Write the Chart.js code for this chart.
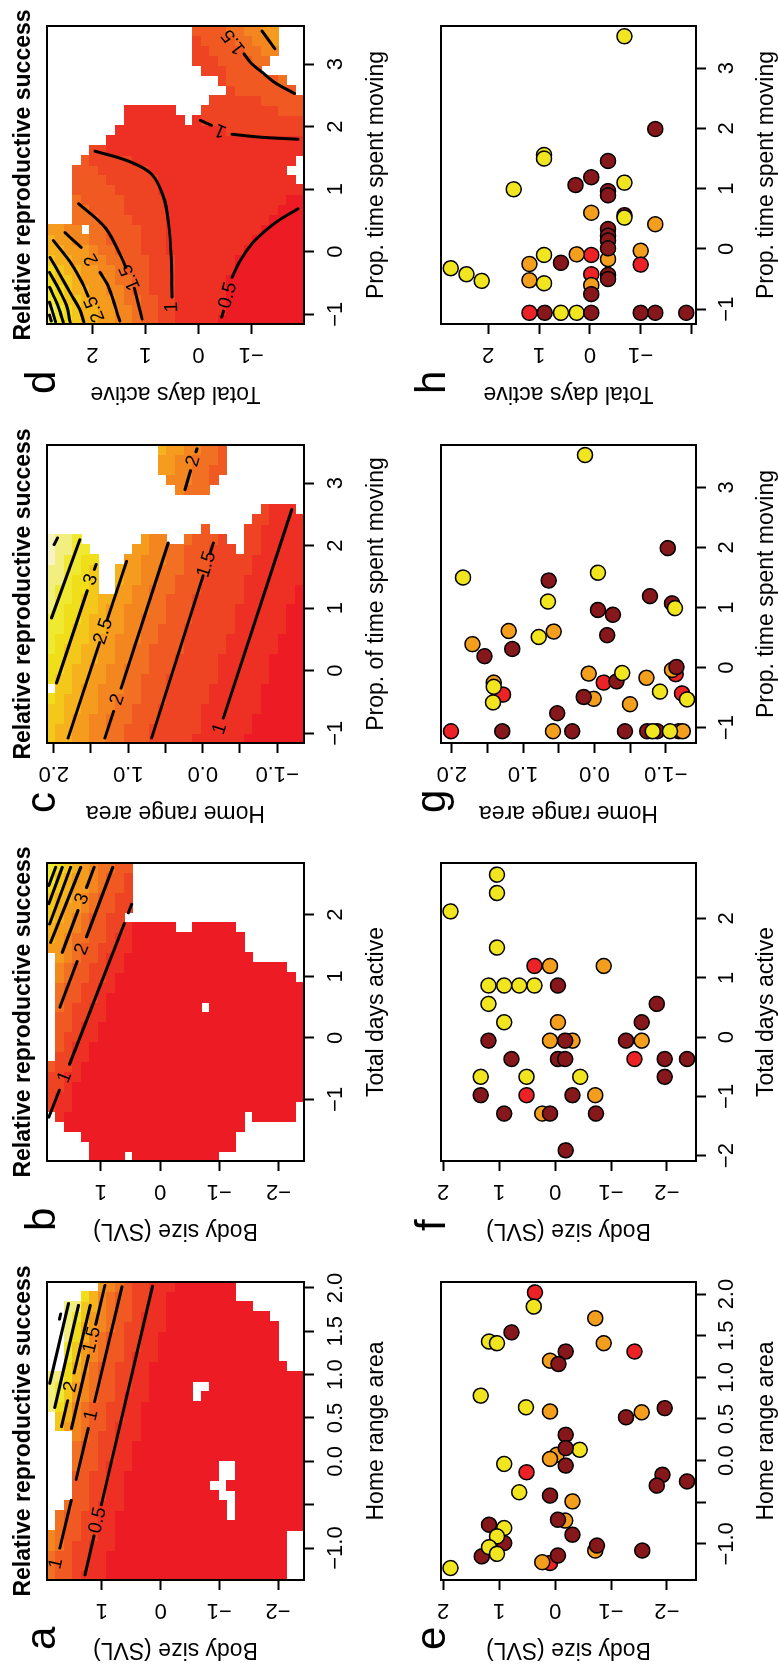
<!DOCTYPE html>
<html>
<head>
<meta charset="utf-8">
<script src="https://cdn.jsdelivr.net/npm/chart.js@4.4.1/dist/chart.umd.min.js"></script>
<style>
  html, body { margin: 0; padding: 0; background: #fff; width: 778px; height: 1669px; overflow: hidden; }
  #fig { position: absolute; left: 0; top: 0; width: 1669px; height: 778px; background: #fff;
         transform-origin: 0 0; transform: translateY(1669px) rotate(-90deg); }
  #fig canvas { position: absolute; }
</style>
</head>
<body>
<div id="fig"></div>
<script>
var FONT = '"Liberation Sans", Arial, Helvetica, sans-serif';
var TITLE = "Relative reproductive success";

// heat colour index -> colour (red = low, pale yellow = high)
var heatColors = {
  "0": "#ED1C24", "1": "#EE3024", "2": "#EF4423", "3": "#F05A22", "4": "#F27021",
  "5": "#F48620", "6": "#F59C1E", "7": "#F5B21C", "8": "#F3C81B", "9": "#F0DE1B",
  "a": "#EFE931", "b": "#F3EE80", "c": "#F7F3C4"
};
var pointColors = { Y: "#F0E51E", O: "#F49E1E", R: "#EC2227", D: "#86171A" };

// tick values and labels
var homeTicks = [-1, -0.5, 0, 0.5, 1, 1.5, 2];
var homeLabels = ["\u22121.0", "", "0.0", "0.5", "1.0", "1.5", "2.0"];
var homeHalfTicks = [-1, -0.5, 0, 0.5, 1, 1.5, 2];
var homeHalfLabels = ["\u22121.0", "", "0.0", "", "1.0", "", "2.0"];
var bodyTicksTop = [-2, -1, 0, 1];
var bodyLabelsTop = ["\u22122", "\u22121", "0", "1"];
var bodyTicks = [-2, -1, 0, 1, 2];
var bodyLabels = ["\u22122", "\u22121", "0", "1", "2"];
var daysTicksB = [-1, 0, 1, 2];
var daysLabelsB = ["\u22121", "0", "1", "2"];
var daysTicksF = [-2, -1, 0, 1, 2];
var daysLabelsF = ["\u22122", "\u22121", "0", "1", "2"];
var daysTicksD = [-1, 0, 1, 2];
var daysLabelsD = ["\u22121", "0", "1", "2"];
var daysTicksH = [-2, -1, 0, 1, 2];
var daysLabelsH = ["", "\u22121", "0", "1", "2"];
var moveTicks = [-1, 0, 1, 2, 3];
var moveLabels = ["\u22121", "0", "1", "2", "3"];

// surface grids, 30 x 30, "." = not predicted (too far from data)
// a, b, c: one string per row, top row first, columns left to right
var gridA = [
  "44455............bbbb.........",
  "3334444........889aab.........",
  "33333334.......6778899aabbbb..",
  "22223333333444555566778899ab..",
  "12222223333333444455566677889.",
  "11112222222333333344445556677.",
  "111111112222222333333344455556",
  "000111111111222222333333344445",
  "000000011111111122222233333334",
  "000000000001111111122222223333",
  "000000000000001111111112222222",
  "000000000000000000111111111222",
  "000000000000000000000011111111",
  "000000000000000000000000011111",
  "000000000000000000000000000001",
  "000000000000000000000000000000",
  "000000000000000000000000000000",
  "000000000000000000..0000000000",
  "0000000000000000000.0000000000",
  "000000000.00000000000000000000",
  "00000000....000000000000000000",
  "000000...0..000000000000000000",
  "0000000000000000000000000000..",
  "0000000000000000000000000000..",
  "000000000000000000000000000...",
  "000000000000000000000000000...",
  "00000000000000000000000000....",
  "0000000000000000000000........",
  ".....0000000000000000.........",
  ".....0000000000000000........."
];
var gridB = [
  ".....22223...........6778889aa",
  "....11122223333444556666777889",
  "...001111222233333445556667778",
  "...000001111222233334445566667",
  "..0000000011112222333344455666",
  "000000000000111122223333344555",
  "000000000000001111222233333444",
  "000000000000000001111222233334",
  "000000000000000000011112222333",
  ".00000000000000000000111.22223",
  "000000000000000000000000......",
  "000000000000000000000000......",
  "000000000000000000000000......",
  "000000000000000000000000......",
  "000000000000000000000000......",
  "00000000000000000000000.......",
  "00000000000000000000000.......",
  "000000000000000000000000......",
  "000000000000000.00000000......",
  "000000000000000000000000......",
  ".00000000000000000000000......",
  ".00000000000000000000000......",
  "...00000000000000000000.......",
  ".....0000000000000000.........",
  "....0000000000000000..........",
  "....0000000000000000..........",
  "....0000000000000000..........",
  "....0000000000000000..........",
  "....000000000000000...........",
  "......000000000000............"
];
var gridC = [
  "88889.999aaaabbbbbccc.........",
  "77888889999aaaaabbbbb.........",
  "77777888889999aaaaabb.........",
  "66677777888899999aaaa.........",
  "6666667777888889999a..........",
  "5556666677777888889...........",
  "555555666667777...............",
  "444555556666667...............",
  "444445555556666677............",
  "3344444455555566666...........",
  "33334444445555556666..........",
  "333333344444455555566.........",
  "223333333344444455555.........",
  "222233333333444444555......667",
  "22222223333333344444......5666",
  "22222222233333333444.....55556",
  "222222222222333333334....45555",
  "122222222222222333333....44445",
  "1111222222222222233333...44444",
  "111111222222222222223.....3344",
  "111111111222222222222......333",
  "11111111111222222222..........",
  "1111111111111122222...........",
  "0111111111111111122222........",
  "00011111111111111112222.......",
  "000000111111111111111122......",
  "000000000111111111111111......",
  "000000000001111111111111......",
  "000000000000001111111111......",
  "00000000000000001111111......."
];
// d: one string per column, left column first, rows top to bottom
var gridDCols = [
  "ba9877665543322111110000000000",
  "ba9877665543322111111000000000",
  "a98876665443322111111000000000",
  "a98776655433222111111000000000",
  "988766654433222111111000000000",
  "987766554333222111111100000000",
  "877665544333222111111100000000",
  "776665443332221111111110000000",
  "766554433332221111111111000000",
  "6655.4433332221111111111100000",
  "...444333322221111111111110000",
  "...443333222221111111111111000",
  "...433333222221111111111111100",
  "...333332222211111111111111111",
  "...33332222221111111111111111.",
  "...3332222221111111111111111..",
  "....3222221111111111111111111.",
  ".....2211111111111111111111111",
  ".......11111111111111111111111",
  "........1111111111111222222222",
  ".........1111111.1222222222222",
  ".........111111...222222222333",
  "...................22222233333",
  ".....................23333333.",
  "....................23333334..",
  "..................2223333.....",
  ".................222333344....",
  ".................2233334455...",
  ".................2333344556...",
  ".................3333445566..."
];

// contour lines: segments of [x, y] points, labels [x, y, text]
var contoursA = [
  { segs: [[[-1.31, 1.29], [-0.86, 1.135]], [[-0.50, 1.01], [2.02, 0.14]]], labels: [[-0.68, 1.07, "0.5"]] },
  { segs: [[[-1.0, 1.718], [-0.45, 1.525]], [[-0.21, 1.44], [0.38, 1.234]], [[0.69, 1.125], [2.015, 0.66]]],
    labels: [[-1.18, 1.78, "1"], [0.53, 1.18, "1"]] },
  { segs: [[[0.38, 1.52], [1.22, 1.23]], [[1.58, 1.105], [2.03, 0.95]]], labels: [[1.40, 1.17, "1.5"]] },
  { segs: [[[0.40, 1.69], [0.70, 1.585]], [[1.02, 1.475], [1.80, 1.20]]], labels: [[0.86, 1.53, "2"]] },
  { segs: [[[0.62, 1.806], [1.80, 1.40]]], labels: [] },
  { segs: [[[0.90, 1.89], [1.82, 1.57]]], labels: [] },
  { segs: [[[1.64, 1.725], [1.70, 1.705]]], labels: [] }
];
var contoursB = [
  { segs: [[[-1.287, 1.878], [-0.85, 1.70]], [[-0.43, 1.53], [1.86, 0.605]], [[2.03, 0.535], [2.17, 0.48]]],
    labels: [[-0.64, 1.61, "1"]] },
  { segs: [[[0.497, 1.691], [1.24, 1.40]], [[1.64, 1.243], [2.77, 0.80]]], labels: [[1.44, 1.32, "2"]] },
  { segs: [[[1.388, 1.652], [2.07, 1.387]], [[2.44, 1.243], [2.77, 1.114]]], labels: [[2.254, 1.315, "3"]] },
  { segs: [[[1.55, 1.85], [2.77, 1.34]]], labels: [] },
  { segs: [[[1.85, 1.866], [2.77, 1.51]]], labels: [] },
  { segs: [[[2.18, 1.878], [2.77, 1.652]]], labels: [] },
  { segs: [[[2.475, 1.878], [2.77, 1.764]]], labels: [] }
];
var contoursC = [
  { segs: [[[-0.757, -0.277], [2.576, -1.196]]], labels: [[-0.93, -0.23, "1"]] },
  { segs: [[[-1.077, 0.686], [1.52, -0.005]], [[1.88, -0.10], [2.043, -0.143]]], labels: [[1.70, -0.053, "1.5"]] },
  { segs: [[[-1.077, 1.313], [-0.65, 1.196]], [[-0.28, 1.095], [2.043, 0.462]]], labels: [[-0.464, 1.146, "2"]] },
  { segs: [[[-1.077, 1.806], [0.45, 1.383]], [[0.81, 1.283], [1.75, 1.022]]], labels: [[0.63, 1.333, "2.5"]] },
  { segs: [[[-0.197, 1.962], [1.28, 1.55]], [[1.62, 1.455], [1.70, 1.43]]], labels: [[1.456, 1.50, "3"]] },
  { segs: [[[0.843, 2.03], [2.096, 1.649]]], labels: [] },
  { segs: [[[2.016, 1.995], [2.123, 1.949]]], labels: [] },
  { segs: [[[2.896, 0.238], [3.20, 0.163]], [[3.50, 0.09], [3.55, 0.077]]], labels: [[3.35, 0.127, "2"]] }
];
var contoursD = [
  { segs: [[[1.608, 1.95], [1.449, 1.32], [1.242, 0.883], [0.877, 0.657], [0.448, 0.56], [-0.092, 0.512], [-0.728, 0.496]]],
    labels: [[-0.887, 0.496, "1"]] },
  { segs: [[[0.766, 2.257], [0.384, 1.756], [-0.092, 1.449], [-0.251, 1.368]], [[-0.585, 1.207], [-1.078, 1.061]]],
    labels: [[-0.41, 1.287, "1.5"]] },
  { segs: [[[0.305, 2.516], [0.067, 2.209]], [[-0.331, 1.853], [-0.569, 1.692], [-1.109, 1.481]]],
    labels: [[-0.124, 2.015, "2"]] },
  { segs: [[[0.178, 2.735], [-0.204, 2.386], [-0.521, 2.176], [-0.712, 2.079]]], labels: [[-0.919, 1.95, "2.5"]] },
  { segs: [[[-0.092, 2.798], [-0.362, 2.613], [-0.68, 2.402], [-0.919, 2.241], [-1.125, 2.16]]], labels: [] },
  { segs: [[[-0.331, 2.807], [-0.633, 2.613], [-0.871, 2.483], [-1.125, 2.419]]], labels: [] },
  { segs: [[[-0.569, 2.807], [-0.839, 2.661], [-1.125, 2.548]]], labels: [] },
  { segs: [[[-0.807, 2.807], [-1.125, 2.693]]], labels: [] },
  { segs: [[[-1.014, 2.807], [-1.109, 2.774]]], labels: [] },
  { segs: [[[-1.046, -0.442], [-0.95, -0.474]],
           [[-0.41, -0.636], [-0.156, -0.781], [0.122, -1.007], [0.337, -1.266], [0.496, -1.508], [0.686, -1.88]]],
    labels: [[-0.70, -0.56, "0.5"]] },
  { segs: [[[2.1, -0.038], [2.021, -0.248]], [[1.878, -0.636], [1.83, -1.201], [1.799, -1.88]]],
    labels: [[1.942, -0.42, "1"]] },
  { segs: [[[3.165, -0.862], [3.006, -1.007], [2.863, -1.217], [2.704, -1.444], [2.53, -1.815]]],
    labels: [[3.356, -0.668, "1.5"]] },
  { segs: [[[3.53, -1.201], [3.245, -1.444]]], labels: [] }
];

// scatter points [x, y, colour code]
var ptsE = [
  [2.02, 0.36, "R"], [1.85, 0.38, "Y"], [1.54, 0.78, "D"], [1.43, 1.18, "Y"], [1.41, 1.04, "Y"],
  [1.71, -0.72, "O"], [1.41, -0.87, "O"], [1.31, -1.42, "R"], [1.31, -0.19, "D"], [1.20, 0.09, "O"], [1.16, -0.06, "D"],
  [0.78, 1.33, "Y"], [0.64, 0.52, "Y"], [0.59, 0.09, "O"], [0.52, -1.27, "D"], [0.58, -1.55, "O"], [0.63, -1.96, "D"],
  [0.31, -0.19, "D"], [0.13, -0.44, "Y"], [0.07, -0.03, "O"], [0.02, 0.09, "O"], [0.15, -0.19, "D"], [-0.06, -0.19, "D"],
  [-0.04, 0.91, "Y"], [-0.14, 0.51, "R"], [-0.17, -1.92, "D"], [-0.30, -1.82, "D"], [-0.25, -2.36, "D"],
  [-0.38, 0.64, "Y"], [-0.42, 0.09, "D"], [-0.49, -0.31, "O"], [-0.72, -0.18, "O"], [-0.71, -0.05, "D"], [-0.89, -0.31, "D"],
  [-1.15, 1.31, "D"], [-0.99, 0.91, "D"], [-0.77, 1.18, "D"], [-0.81, 0.91, "Y"], [-0.91, 1.04, "Y"], [-1.04, 1.18, "Y"],
  [-1.12, 1.04, "Y"], [-1.08, -0.72, "O"], [-1.02, -0.75, "D"], [-1.08, -1.56, "D"], [-1.23, 0.09, "R"], [-1.22, 0.23, "O"],
  [-1.14, -0.05, "D"], [-1.29, 1.87, "Y"]
];
var ptsF = [
  [2.74, 1.04, "Y"], [2.43, 1.04, "Y"], [2.12, 1.87, "Y"], [1.51, 1.04, "Y"], [1.20, 0.37, "R"], [1.20, 0.09, "O"],
  [1.20, -0.87, "O"], [0.87, 1.19, "Y"], [0.87, 0.91, "Y"], [0.87, 0.64, "Y"], [0.87, 0.37, "Y"], [0.87, -0.05, "D"],
  [0.56, 1.19, "Y"], [0.56, -1.82, "D"], [0.25, 0.91, "Y"], [0.25, -0.05, "O"], [0.25, -1.55, "D"], [-0.06, 1.19, "D"],
  [-0.06, 0.09, "O"], [-0.06, -0.31, "O"], [-0.06, -0.18, "D"], [-0.06, -1.27, "D"], [-0.06, -1.55, "O"],
  [-0.37, 0.78, "D"], [-0.37, -0.05, "D"], [-0.37, -0.18, "D"], [-0.37, -1.42, "R"], [-0.37, -1.96, "D"],
  [-0.37, -2.36, "D"], [-0.67, 1.33, "Y"], [-0.67, 0.51, "Y"], [-0.67, -0.45, "Y"], [-0.67, -1.96, "D"],
  [-0.98, 1.33, "D"], [-0.98, 0.51, "R"], [-0.98, -0.31, "D"], [-0.98, -0.72, "O"], [-1.29, 0.91, "D"],
  [-1.29, 0.23, "O"], [-1.29, 0.09, "D"], [-1.29, -0.73, "D"], [-1.91, -0.19, "D"]
];
var ptsG = [
  [3.54, 0.13, "Y"], [1.99, -1.03, "D"], [1.50, 1.84, "Y"], [1.45, 0.64, "D"], [1.58, -0.05, "Y"], [1.10, 0.65, "Y"],
  [1.19, -0.78, "D"], [1.07, -1.09, "D"], [0.99, -1.13, "Y"], [0.96, -0.05, "D"], [0.88, -0.26, "D"], [0.54, -0.18, "D"],
  [0.61, 1.20, "O"], [0.60, 0.57, "O"], [0.51, 0.78, "Y"], [0.39, 1.71, "O"], [0.19, 1.54, "D"], [0.31, 1.15, "D"],
  [-0.10, 0.08, "O"], [-0.25, -0.13, "R"], [-0.23, -0.31, "D"], [-0.09, -0.39, "Y"], [-0.17, -0.73, "O"],
  [-0.11, -1.14, "R"], [-0.04, -1.09, "O"], [0.01, -1.15, "D"], [-0.40, -0.92, "Y"], [-0.43, -1.23, "R"],
  [-0.53, -1.30, "Y"], [-0.25, 1.41, "O"], [-0.45, 1.28, "R"], [-0.32, 1.41, "Y"], [-0.58, 1.42, "Y"],
  [-0.52, 0.01, "O"], [-0.49, 0.15, "D"], [-0.61, -0.50, "O"], [-0.76, 0.52, "D"], [-1.06, 2.01, "R"],
  [-1.06, 1.29, "D"], [-1.06, 0.58, "O"], [-1.06, 0.31, "D"], [-1.06, -0.43, "D"], [-1.06, -0.74, "D"],
  [-1.06, -0.88, "D"], [-1.06, -1.18, "D"], [-1.06, -1.24, "O"], [-1.06, -0.82, "Y"], [-1.06, -1.06, "Y"]
];
var ptsH = [
  [3.53, -0.68, "Y"], [1.99, -1.29, "D"], [1.56, 0.90, "Y"], [1.50, 0.90, "Y"], [1.46, -0.36, "D"], [1.19, -0.03, "D"],
  [1.06, 0.28, "D"], [1.10, -0.68, "Y"], [0.96, -0.36, "D"], [0.89, -0.36, "D"], [0.99, 1.50, "Y"], [0.60, -0.03, "O"],
  [0.56, -0.68, "D"], [0.52, -0.68, "Y"], [0.41, -1.29, "O"], [0.33, -0.36, "D"], [0.22, -0.36, "D"], [0.14, -0.36, "D"],
  [-0.17, -0.36, "O"], [0.01, -0.36, "D"], [-0.03, -1.00, "O"], [-0.10, -0.03, "R"], [-0.09, 0.26, "O"],
  [-0.10, 0.90, "Y"], [-0.26, -1.00, "R"], [-0.23, 0.57, "D"], [-0.25, 1.19, "O"], [-0.32, 2.74, "Y"],
  [-0.42, 2.43, "Y"], [-0.53, 2.13, "Y"], [-0.52, 1.19, "O"], [-0.57, 0.90, "Y"], [-0.42, -0.03, "R"],
  [-0.60, -0.03, "O"], [-0.75, -0.03, "D"], [-0.43, -0.36, "D"], [-0.50, -0.36, "D"], [-1.06, 1.19, "R"],
  [-1.06, 0.89, "D"], [-1.06, 0.57, "Y"], [-1.06, 0.26, "Y"], [-1.06, -0.03, "D"], [-1.06, -1.00, "D"],
  [-1.06, -1.29, "D"], [-1.06, -1.90, "D"]
];

var panels = [
  { letter: "a", row: 0, col: 0, xMin: -1.369, xMax: 2.069, yMin: -2.443, yMax: 1.937,
    xTicks: homeTicks, xLabels: homeLabels, yTicks: bodyTicksTop, yLabels: bodyLabelsTop,
    xTitle: "Home range area", yTitle: "Body size (SVL)", grid: gridA, contours: contoursA },
  { letter: "b", row: 0, col: 1, xMin: -2.0, xMax: 2.84, yMin: -2.43, yMax: 1.91,
    xTicks: daysTicksB, xLabels: daysLabelsB, yTicks: bodyTicksTop, yLabels: bodyLabelsTop,
    xTitle: "Total days active", yTitle: "Body size (SVL)", grid: gridB, contours: contoursB },
  { letter: "c", row: 0, col: 2, xMin: -1.157, xMax: 3.61, yMin: -1.36, yMax: 2.09,
    xTicks: moveTicks, xLabels: moveLabels, yTicks: homeHalfTicks, yLabels: homeHalfLabels,
    xTitle: "Prop. of time spent moving", yTitle: "Home range area", grid: gridC, contours: contoursC },
  { letter: "d", row: 0, col: 3, xMin: -1.157, xMax: 3.61, yMin: -1.994, yMax: 2.855,
    xTicks: moveTicks, xLabels: moveLabels, yTicks: daysTicksD, yLabels: daysLabelsD,
    xTitle: "Prop. time spent moving", yTitle: "Total days active", grid: gridDCols, byCol: true,
    contours: contoursD, smooth: true },
  { letter: "e", row: 1, col: 0, xMin: -1.434, xMax: 2.145, yMin: -2.52, yMax: 2.04,
    xTicks: homeTicks, xLabels: homeLabels, yTicks: bodyTicks, yLabels: bodyLabels,
    xTitle: "Home range area", yTitle: "Body size (SVL)", points: ptsE },
  { letter: "f", row: 1, col: 1, xMin: -2.09, xMax: 2.936, yMin: -2.52, yMax: 2.04,
    xTicks: daysTicksF, xLabels: daysLabelsF, yTicks: bodyTicks, yLabels: bodyLabels,
    xTitle: "Total days active", yTitle: "Body size (SVL)", points: ptsF },
  { letter: "g", row: 1, col: 2, xMin: -1.256, xMax: 3.707, yMin: -1.425, yMax: 2.15,
    xTicks: moveTicks, xLabels: moveLabels, yTicks: homeHalfTicks, yLabels: homeHalfLabels,
    xTitle: "Prop. time spent moving", yTitle: "Home range area", points: ptsG },
  { letter: "h", row: 1, col: 3, xMin: -1.246, xMax: 3.70, yMin: -2.09, yMax: 2.93,
    xTicks: moveTicks, xLabels: moveLabels, yTicks: daysTicksH, yLabels: daysLabelsH,
    xTitle: "Prop. time spent moving", yTitle: "Total days active", points: ptsH }
];

(function () {
  "use strict";

  var COL_LEFT = [89, 508, 926, 1345];
  var BOX_W = 298;
  var AXIS_W = 89;
  var PAD_RIGHT = 25;

  function heatPlugin(p) {
    return {
      id: "heat",
      beforeDatasetsDraw: function (chart) {
        var xs = chart.scales.x, ys = chart.scales.y, ctx = chart.ctx, a = chart.chartArea;
        var dx = (p.xMax - p.xMin) / 30, dy = (p.yMax - p.yMin) / 30;
        ctx.save();
        ctx.beginPath();
        ctx.rect(a.left, a.top, a.right - a.left, a.bottom - a.top);
        ctx.clip();
        for (var c = 0; c < 30; c++) {
          for (var r = 0; r < 30; r++) {
            var ch = p.byCol ? p.grid[c].charAt(r) : p.grid[r].charAt(c);
            if (!heatColors[ch]) {
              continue;
            }
            var x0 = Math.floor(xs.getPixelForValue(p.xMin + c * dx));
            var x1 = Math.ceil(xs.getPixelForValue(p.xMin + (c + 1) * dx));
            var y0 = Math.floor(ys.getPixelForValue(p.yMax - r * dy));
            var y1 = Math.ceil(ys.getPixelForValue(p.yMax - (r + 1) * dy));
            ctx.fillStyle = heatColors[ch];
            ctx.fillRect(x0, y0, x1 - x0, y1 - y0);
          }
        }
        ctx.restore();
      },
      afterDatasetsDraw: function (chart) {
        var xs = chart.scales.x, ys = chart.scales.y, ctx = chart.ctx;
        ctx.save();
        ctx.fillStyle = "#000";
        ctx.font = "19px " + FONT;
        ctx.textAlign = "center";
        ctx.textBaseline = "middle";
        p.contours.forEach(function (ct) {
          ct.labels.forEach(function (lb) {
            var px = xs.getPixelForValue(lb[0]), py = ys.getPixelForValue(lb[1]);
            var best = 0, bd = Infinity;
            ct.segs.forEach(function (seg) {
              for (var i = 0; i + 1 < seg.length; i++) {
                var ax = xs.getPixelForValue(seg[i][0]), ay = ys.getPixelForValue(seg[i][1]);
                var bx = xs.getPixelForValue(seg[i + 1][0]), by = ys.getPixelForValue(seg[i + 1][1]);
                var d = Math.hypot((ax + bx) / 2 - px, (ay + by) / 2 - py);
                if (d < bd) {
                  bd = d;
                  best = Math.atan2(by - ay, bx - ax);
                }
              }
            });
            if (best > Math.PI / 2) { best -= Math.PI; }
            if (best < -Math.PI / 2) { best += Math.PI; }
            ctx.save();
            ctx.translate(px, py);
            ctx.rotate(best);
            ctx.fillText(lb[2], 0, 0);
            ctx.restore();
          });
        });
        ctx.restore();
      }
    };
  }

  function textPlugin(p) {
    return {
      id: "panelText",
      afterDraw: function (chart) {
        var a = chart.chartArea, xs = chart.scales.x, ys = chart.scales.y, ctx = chart.ctx;
        var top = p.row === 0;
        ctx.save();
        ctx.strokeStyle = "#000";
        ctx.lineWidth = 2;
        ctx.strokeRect(a.left, a.top, a.right - a.left, a.bottom - a.top);
        ctx.fillStyle = "#000";
        ctx.textAlign = "center";
        ctx.textBaseline = "alphabetic";
        ctx.font = "22px " + FONT;
        p.xTicks.forEach(function (v, i) {
          if (p.xLabels[i]) {
            ctx.fillText(p.xLabels[i], xs.getPixelForValue(v), a.bottom + (top ? 38 : 37));
          }
        });
        p.yTicks.forEach(function (v, i) {
          if (!p.yLabels[i]) {
            return;
          }
          ctx.save();
          ctx.translate(a.left - 24, ys.getPixelForValue(v));
          ctx.rotate(-Math.PI / 2);
          ctx.fillText(p.yLabels[i], 0, 0);
          ctx.restore();
        });
        ctx.font = "23px " + FONT;
        ctx.fillText(p.xTitle, (a.left + a.right) / 2, a.bottom + (top ? 79 : 77));
        ctx.save();
        ctx.translate(a.left - 63.5, (a.top + a.bottom) / 2);
        ctx.rotate(-Math.PI / 2);
        ctx.fillText(p.yTitle, 0, 0);
        ctx.restore();
        if (top) {
          ctx.font = "bold 23px " + FONT;
          ctx.fillText(TITLE, (a.left + a.right) / 2, a.top - 17.5);
        }
        ctx.font = "42px " + FONT;
        ctx.textAlign = "left";
        ctx.fillText(p.letter, a.left - 70, a.top + (top ? 8 : 4));
        ctx.restore();
      }
    };
  }

  function buildDatasets(p) {
    if (p.points) {
      return [{
        data: p.points.map(function (pt) { return { x: pt[0], y: pt[1] }; }),
        pointRadius: 7.5,
        pointBorderWidth: 1.5,
        pointBorderColor: "#000",
        pointBackgroundColor: p.points.map(function (pt) { return pointColors[pt[2]]; }),
        showLine: false
      }];
    }
    var out = [];
    p.contours.forEach(function (ct) {
      ct.segs.forEach(function (seg) {
        out.push({
          data: seg.map(function (pt) { return { x: pt[0], y: pt[1] }; }),
          showLine: true,
          borderColor: "#000",
          borderWidth: 3,
          borderCapStyle: "round",
          pointRadius: 0,
          fill: false,
          tension: p.smooth ? 0.35 : 0
        });
      });
    });
    return out;
  }

  function axisOptions(min, max, ticks, fit) {
    return {
      type: "linear",
      min: min,
      max: max,
      afterBuildTicks: function (scale) {
        scale.ticks = ticks.map(function (v) { return { value: v }; });
      },
      afterFit: fit,
      grid: {
        display: true,
        drawOnChartArea: false,
        drawTicks: true,
        tickLength: 10,
        tickColor: "#000",
        tickWidth: 2
      },
      border: { display: false },
      ticks: { display: false }
    };
  }

  function buildPanel(fig, p) {
    var canvasTop = p.row === 0 ? 0 : 400;
    var canvasH = p.row === 0 ? 400 : 378;
    var boxTop = (p.row === 0 ? 47 : 441) - canvasTop;
    var boxBottom = (p.row === 0 ? 304 : 696) - canvasTop;
    var canvasLeft = COL_LEFT[p.col] - AXIS_W;
    var canvasW = AXIS_W + BOX_W + PAD_RIGHT;

    var canvas = document.createElement("canvas");
    canvas.width = canvasW;
    canvas.height = canvasH;
    canvas.style.left = canvasLeft + "px";
    canvas.style.top = canvasTop + "px";
    canvas.style.width = canvasW + "px";
    canvas.style.height = canvasH + "px";
    fig.appendChild(canvas);

    var plugins = [textPlugin(p)];
    if (p.grid) {
      plugins.unshift(heatPlugin(p));
    }

    new Chart(canvas, {
      type: "scatter",
      data: { datasets: buildDatasets(p) },
      options: {
        responsive: false,
        animation: false,
        events: [],
        layout: { padding: { left: 0, right: PAD_RIGHT, top: boxTop, bottom: 0 } },
        plugins: { legend: { display: false }, tooltip: { enabled: false } },
        scales: {
          x: axisOptions(p.xMin, p.xMax, p.xTicks, function (s) { s.height = canvasH - boxBottom; }),
          y: axisOptions(p.yMin, p.yMax, p.yTicks, function (s) { s.width = AXIS_W; })
        }
      },
      plugins: plugins
    });
  }

  Chart.defaults.font.family = FONT;
  var fig = document.getElementById("fig");
  panels.forEach(function (p) {
    buildPanel(fig, p);
  });
})();
</script>
</body>
</html>
